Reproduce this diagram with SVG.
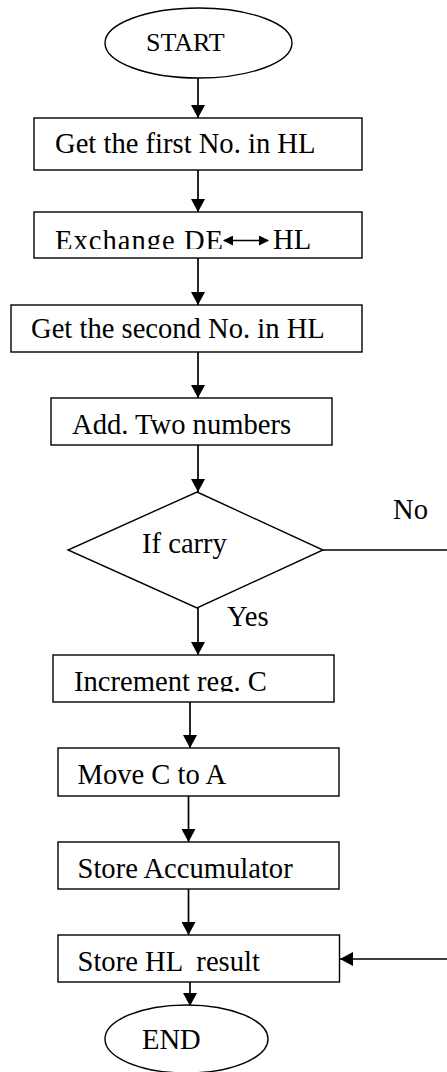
<svg xmlns="http://www.w3.org/2000/svg" width="447" height="1072" viewBox="0 0 447 1072">
<style>
.shape{fill:#fff;stroke:#000;stroke-width:1.4}
.t{font-family:"Liberation Serif","Times New Roman",serif;font-size:28.6px;fill:#000}
.c{fill:none;stroke:#000;stroke-width:1.7}
</style>
<defs>
<marker id="ah" markerUnits="userSpaceOnUse" markerWidth="14" markerHeight="14" viewBox="0 0 14 14" refX="13" refY="7" orient="auto">
<path d="M0,0 L13,7 L0,14 Z" fill="#000"/>
</marker>
<marker id="sh" markerUnits="userSpaceOnUse" markerWidth="10" markerHeight="10" viewBox="0 0 10 10" refX="9" refY="5" orient="auto">
<path d="M0,0 L10,5 L0,10 Z" fill="#000"/>
</marker>
<marker id="shs" markerUnits="userSpaceOnUse" markerWidth="10" markerHeight="10" viewBox="0 0 10 10" refX="1" refY="5" orient="auto">
<path d="M10,0 L0,5 L10,10 Z" fill="#000"/>
</marker>
<clipPath id="clip2"><rect x="34" y="212" width="328" height="37"/></clipPath>
<clipPath id="clip5"><rect x="53" y="655" width="281" height="37"/></clipPath>
</defs>
<g id="connectors">
<line class="c" x1="198" y1="78" x2="198" y2="118" marker-end="url(#ah)"/>
<line class="c" x1="198" y1="170" x2="198" y2="212" marker-end="url(#ah)"/>
<line class="c" x1="198" y1="258" x2="198" y2="305" marker-end="url(#ah)"/>
<line class="c" x1="198" y1="352" x2="198" y2="398" marker-end="url(#ah)"/>
<line class="c" x1="198" y1="445" x2="198" y2="492" marker-end="url(#ah)"/>
<line class="c" x1="198" y1="608" x2="198" y2="655" marker-end="url(#ah)"/>
<line class="c" x1="190" y1="702" x2="190" y2="748" marker-end="url(#ah)"/>
<line class="c" x1="188.5" y1="796" x2="188.5" y2="842" marker-end="url(#ah)"/>
<line class="c" x1="188.5" y1="889" x2="188.5" y2="935" marker-end="url(#ah)"/>
<line class="c" x1="190" y1="982" x2="190" y2="1006" marker-end="url(#ah)"/>
<line class="c" x1="323" y1="550" x2="447" y2="550"/>
<line class="c" x1="447" y1="959" x2="340" y2="959" marker-end="url(#ah)"/>
<text class="t" x="393" y="519">No</text>
<text class="t" x="227" y="626">Yes</text>
</g>
<g id="start">
<ellipse class="shape" cx="198.5" cy="43" rx="93.5" ry="35"/>
<text class="t" x="146" y="51" style="font-size:26px">START</text>
</g>
<g id="step1">
<rect class="shape" x="34" y="118" width="328" height="52"/>
<text class="t" x="55" y="153">Get the first No. in HL</text>
</g>
<g id="step2">
<rect class="shape" x="34" y="212" width="328" height="46"/>
<g clip-path="url(#clip2)">
<text class="t" x="55" y="249.5" textLength="168" lengthAdjust="spacing">Exchange DE</text>
</g>
<line class="c" x1="224" y1="240.5" x2="268" y2="240.5" marker-start="url(#shs)" marker-end="url(#sh)"/>
<text class="t" x="273" y="249">HL</text>
</g>
<g id="step3">
<rect class="shape" x="11" y="305" width="351" height="47"/>
<text class="t" x="31" y="338">Get the second No. in HL</text>
</g>
<g id="step4">
<rect class="shape" x="51" y="398" width="281" height="47"/>
<text class="t" x="72" y="434">Add. Two numbers</text>
</g>
<g id="decision">
<polygon class="shape" points="197,492 323,550 197,608 68,550"/>
<text class="t" x="142" y="553">If carry</text>
</g>
<g id="step5">
<rect class="shape" x="53" y="655" width="281" height="47"/>
<g clip-path="url(#clip5)">
<text class="t" x="74" y="691">Increment reg. C</text>
</g>
</g>
<g id="step6">
<rect class="shape" x="58" y="748" width="281" height="48"/>
<text class="t" x="77.5" y="784">Move C to A</text>
</g>
<g id="step7">
<rect class="shape" x="58" y="842" width="281" height="47"/>
<text class="t" x="77.5" y="877.5">Store Accumulator</text>
</g>
<g id="step8">
<rect class="shape" x="58" y="935" width="281.5" height="47"/>
<text class="t" x="77.5" y="971" xml:space="preserve">Store HL  result</text>
</g>
<g id="end">
<ellipse class="shape" cx="186.5" cy="1039" rx="81.5" ry="34"/>
<text class="t" x="142" y="1049">END</text>
</g>
</svg>
